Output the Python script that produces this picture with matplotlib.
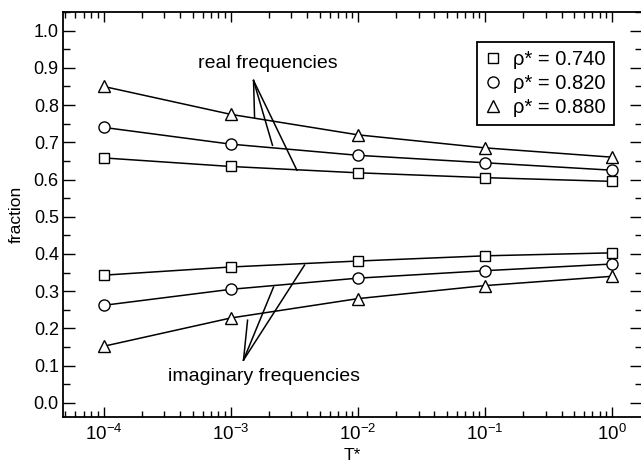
import matplotlib
matplotlib.use("Agg")
import matplotlib.pyplot as plt
import numpy as np
from matplotlib.ticker import LogLocator, MultipleLocator, FuncFormatter

plt.rcParams['font.family'] = ['Liberation Sans', 'DejaVu Sans']
plt.rcParams['mathtext.fontset'] = 'custom'
plt.rcParams['mathtext.rm'] = 'Liberation Sans'
plt.rcParams['mathtext.it'] = 'Liberation Sans'
plt.rcParams['mathtext.default'] = 'regular'

T = [1e-4, 1e-3, 1e-2, 1e-1, 1e0]
labels = ["ρ* = 0.740", "ρ* = 0.820", "ρ* = 0.880"]
markers = ["s", "o", "^"]
real_740 = [0.658, 0.635, 0.618, 0.605, 0.595]
imag_740 = [0.343, 0.365, 0.381, 0.395, 0.403]
real_820 = [0.740, 0.695, 0.665, 0.645, 0.625]
imag_820 = [0.262, 0.305, 0.335, 0.355, 0.373]
real_880 = [0.850, 0.775, 0.720, 0.685, 0.660]
imag_880 = [0.152, 0.228, 0.280, 0.315, 0.340]

reals = [real_740, real_820, real_880]
imags = [imag_740, imag_820, imag_880]

fig = plt.figure(figsize=(6.41, 4.62), dpi=100)
ax = fig.add_axes([63/641, 1-417/462, (642-63)/641, (417-12)/462])

msizes = [7, 8, 8.5]
for r, im, m, lab, ms in zip(reals, imags, markers, labels, msizes):
    ax.plot(T, r, color='black', lw=1.1, marker=m, ms=ms, mfc='white', mec='black', mew=1.0, label=lab)
    ax.plot(T, im, color='black', lw=1.1, marker=m, ms=ms, mfc='white', mec='black', mew=1.0)

ax.set_xscale('log')
ax.set_xlim(10**-4.32, 10**0.235)
ax.set_ylim(-0.038, 1.05)
ax.yaxis.set_major_locator(MultipleLocator(0.1))
ax.yaxis.set_minor_locator(MultipleLocator(0.05))
ax.yaxis.set_major_formatter(FuncFormatter(lambda v, p: f"{v:.1f}"))
ax.xaxis.set_major_locator(LogLocator(base=10, numticks=10))
ax.xaxis.set_minor_locator(LogLocator(base=10, subs=np.arange(2, 10), numticks=20))
ax.xaxis.set_major_formatter(FuncFormatter(lambda v, p: r"$10^{%d}$" % int(round(np.log10(v)))))
ax.tick_params(which='both', direction='in', top=True, right=True, width=1.0)
ax.tick_params(axis='y', which='major', length=8.5, labelsize=13, pad=3)
ax.tick_params(axis='y', which='minor', length=5)
ax.tick_params(axis='x', which='major', length=7, labelsize=13.5, pad=5)
ax.tick_params(axis='x', which='minor', length=4)
for s in ax.spines.values():
    s.set_linewidth(1.3)

ax.set_xlabel("T*", fontsize=12.5, labelpad=2.5)
ax.set_ylabel("fraction", fontsize=12.5, labelpad=7)

# annotations
ax.text(10**-2.711, 0.912, "real frequencies", ha='center', va='center', fontsize=14)
apex_r = (10**-2.821, 0.866)
for ex, ey in [(10**-2.813, 0.767), (10**-2.672, 0.692), (10**-2.480, 0.625)]:
    ax.plot([apex_r[0], ex], [apex_r[1], ey], color='black', lw=1.1)

ax.text(10**-2.735, 0.072, "imaginary frequencies", ha='center', va='center', fontsize=14)
apex_i = (10**-2.900, 0.115)
for ex, ey in [(10**-2.868, 0.222), (10**-2.664, 0.311), (10**-2.420, 0.370)]:
    ax.plot([apex_i[0], ex], [apex_i[1], ey], color='black', lw=1.1)

leg = ax.legend(fontsize=14.5, frameon=True, fancybox=False, edgecolor='black',
                handlelength=0.8, handletextpad=0.6, borderpad=0.4, labelspacing=0.25,
                borderaxespad=0.0, framealpha=1.0,
                loc='upper right', bbox_to_anchor=((614-63)/(642-63), 1-(42-12)/(417-12)))
for h in leg.legend_handles:
    h.set_linestyle('none')
leg.get_frame().set_linewidth(1.3)

fig.savefig("out.png", dpi=100)
